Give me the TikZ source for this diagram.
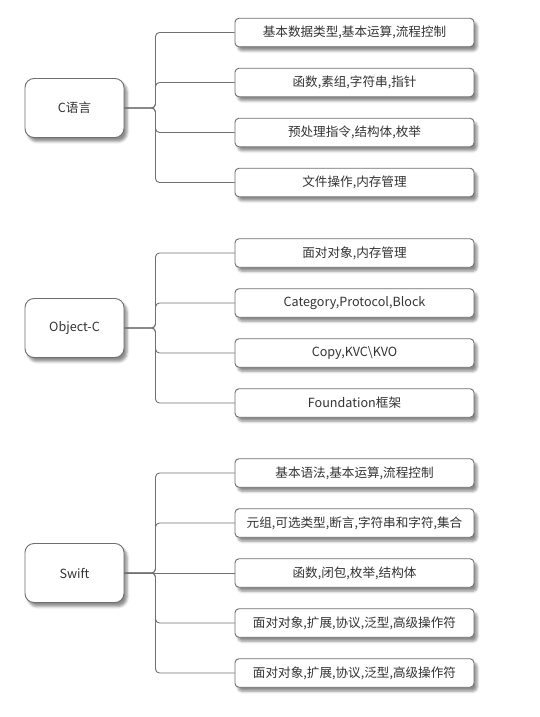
\documentclass[tikz,border=0pt]{standalone}
\usepackage{fontspec}
\setmainfont{Noto Sans CJK SC}
\usetikzlibrary{shadows.blur}
\definecolor{boxgray}{HTML}{6E6E6E}
\definecolor{linegray}{HTML}{707070}
\definecolor{txt}{HTML}{333333}
\begin{document}
\begin{tikzpicture}[x=1pt,y=-1pt,
  box/.style={draw=boxgray, fill=white, line width=0.9pt, text=txt,
    font=\fontsize{12.6}{15}\selectfont,
    blur shadow={shadow xshift=3pt, shadow yshift=-4pt, shadow blur radius=2.5pt, shadow opacity=45}},
  leaf/.style={box, rounded corners=4pt, minimum width=239pt, minimum height=28.5pt, inner sep=0pt},
  rootbox/.style={box, rounded corners=9pt, minimum width=99pt, minimum height=59pt, inner sep=0pt},
  link/.style={draw=linegray, line width=0.9pt, rounded corners=4pt}]
\useasboundingbox (0,0) rectangle (540,717);
\coordinate (jx) at (155.5,0);

% ---- group 1
\node[rootbox] (c) at (74.5,108) {C语言};
\node[leaf] (c1) at (354.5,32.5) {基本数据类型,基本运算,流程控制};
\node[leaf] (c2) at (354.5,82.5) {函数,素组,字符串,指针};
\node[leaf] (c3) at (354.5,132.5) {预处理指令,结构体,枚举};
\node[leaf] (c4) at (354.5,182.5) {文件操作,内存管理};
\foreach \k in {c1,c2,c3,c4}
  \draw[link] (c.east) -- (c.east -| jx) -- (jx |- \k.west) -- (\k.west);

% ---- group 2
\node[rootbox] (o) at (74.5,328) {Object-C};
\node[leaf] (o1) at (354.5,253) {面对对象,内存管理};
\node[leaf] (o2) at (354.5,303) {Category,Protocol,Block};
\node[leaf] (o3) at (354.5,353) {Copy,KVC\textbackslash KVO};
\node[leaf] (o4) at (354.5,403) {Foundation框架};
\foreach \k in {o1,o2,o3,o4}
  \draw[link] (o.east) -- (o.east -| jx) -- (jx |- \k.west) -- (\k.west);

% ---- group 3
\node[rootbox] (s) at (74.5,573) {Swift};
\node[leaf] (s1) at (354.5,473) {基本语法,基本运算,流程控制};
\node[leaf] (s2) at (354.5,523) {元组,可选类型,断言,字符串和字符,集合};
\node[leaf] (s3) at (354.5,573) {函数,闭包,枚举,结构体};
\node[leaf] (s4) at (354.5,623) {面对对象,扩展,协议,泛型,高级操作符};
\node[leaf] (s5) at (354.5,673) {面对对象,扩展,协议,泛型,高级操作符};
\foreach \k in {s1,s2,s4,s5}
  \draw[link] (s.east) -- (s.east -| jx) -- (jx |- \k.west) -- (\k.west);
\draw[link] (s.east) -- (s3.west);
\end{tikzpicture}
\end{document}
